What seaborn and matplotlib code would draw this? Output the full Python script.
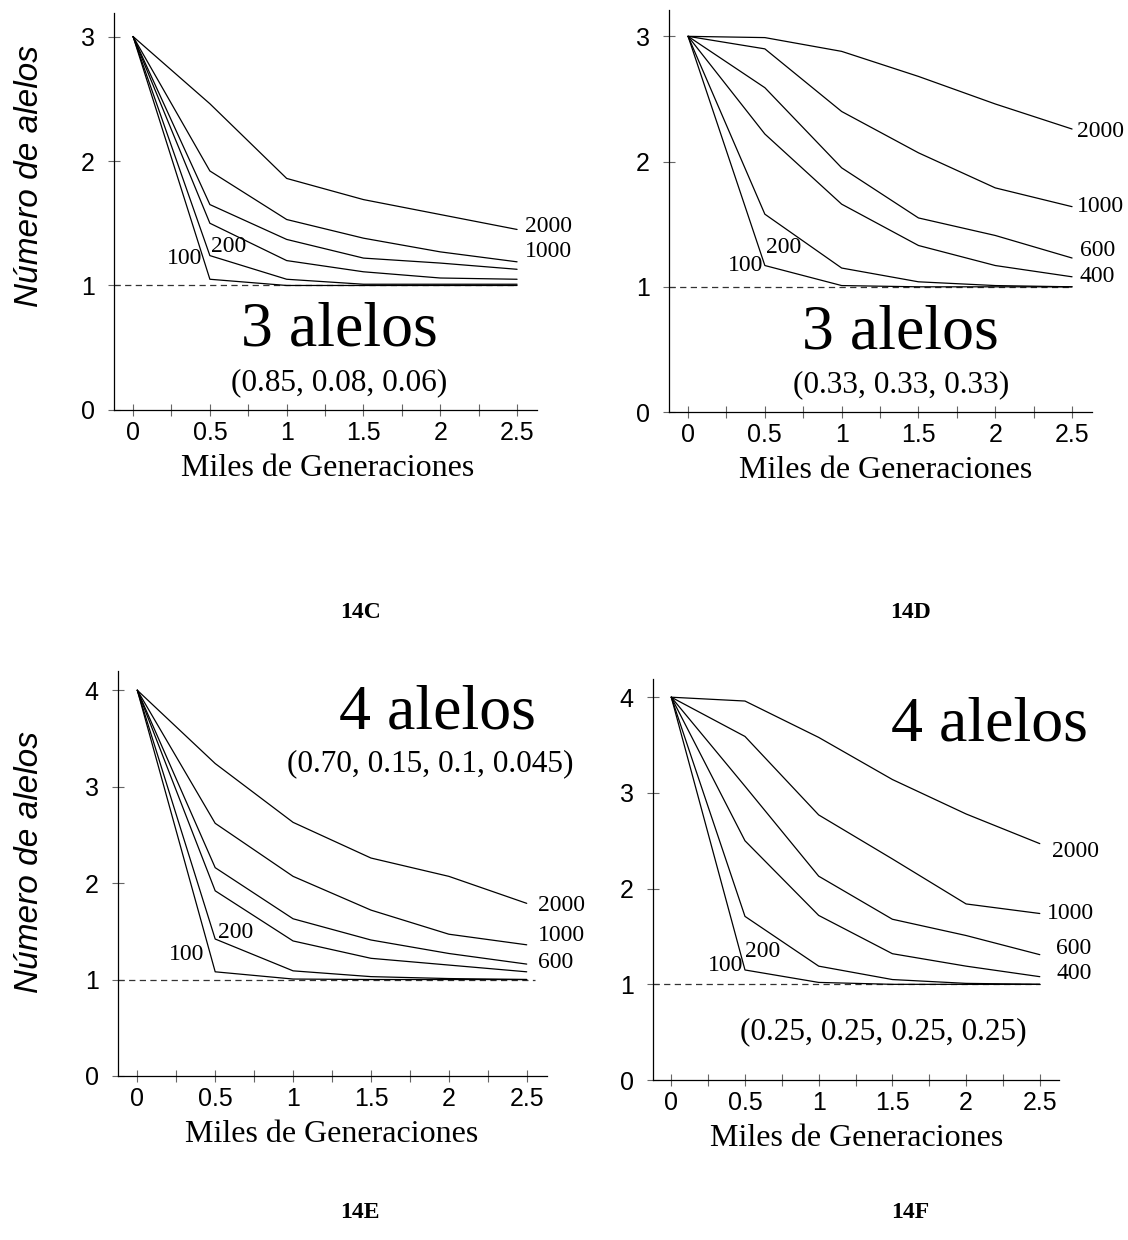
import matplotlib
matplotlib.use("Agg")
import matplotlib.pyplot as plt
import matplotlib.font_manager as fm
import pandas as pd
import seaborn as sns

# ---------------- data ----------------
generaciones = [0, 0.5, 1, 1.5, 2, 2.5]
xtick_labels = ["0", "0.5", "1", "1.5", "2", "2.5"]
minor_x = [0.25, 0.75, 1.25, 1.75, 2.25]
tamanos = [100, 200, 400, 600, 1000, 2000]

# 14C : 3 alelos (0.85, 0.08, 0.06)
c_100 = [3, 1.05, 1.00, 1.00, 1.00, 1.00]
c_200 = [3, 1.24, 1.05, 1.01, 1.01, 1.01]
c_400 = [3, 1.50, 1.20, 1.11, 1.06, 1.05]
c_600 = [3, 1.65, 1.37, 1.22, 1.18, 1.13]
c_1000 = [3, 1.92, 1.53, 1.38, 1.27, 1.19]
c_2000 = [3, 2.46, 1.86, 1.69, 1.57, 1.45]

# 14D : 3 alelos (0.33, 0.33, 0.33)
d_100 = [3, 1.17, 1.01, 1.00, 1.00, 1.00]
d_200 = [3, 1.58, 1.15, 1.04, 1.01, 1.00]
d_400 = [3, 2.22, 1.66, 1.33, 1.17, 1.08]
d_600 = [3, 2.59, 1.95, 1.55, 1.41, 1.23]
d_1000 = [3, 2.90, 2.40, 2.07, 1.79, 1.64]
d_2000 = [3, 2.99, 2.88, 2.68, 2.46, 2.26]

# 14E : 4 alelos (0.70, 0.15, 0.1, 0.045)
e_100 = [4, 1.08, 1.005, 1.00, 1.00, 1.00]
e_200 = [4, 1.42, 1.09, 1.03, 1.01, 1.00]
e_400 = [4, 1.92, 1.40, 1.22, 1.15, 1.08]
e_600 = [4, 2.16, 1.63, 1.41, 1.27, 1.16]
e_1000 = [4, 2.62, 2.07, 1.72, 1.47, 1.36]
e_2000 = [4, 3.24, 2.63, 2.26, 2.07, 1.79]

# 14F : 4 alelos (0.25, 0.25, 0.25, 0.25)
f_100 = [4, 1.15, 1.02, 1.00, 1.00, 1.00]
f_200 = [4, 1.71, 1.19, 1.05, 1.01, 1.00]
f_400 = [4, 2.50, 1.72, 1.32, 1.19, 1.08]
f_600 = [4, 3.07, 2.13, 1.68, 1.51, 1.31]
f_1000 = [4, 3.59, 2.77, 2.31, 1.84, 1.74]
f_2000 = [4, 3.96, 3.58, 3.14, 2.78, 2.47]

linea_base = 1

# ---------------- style ----------------
sns.set_theme(style="white")
plt.rcParams["font.family"] = ["Liberation Serif", "DejaVu Serif"]
plt.rcParams["axes.linewidth"] = 0.9
plt.rcParams["axes.edgecolor"] = "black"
plt.rcParams["text.color"] = "black"
plt.rcParams["axes.labelcolor"] = "black"
plt.rcParams["xtick.color"] = "black"
plt.rcParams["ytick.color"] = "black"

names = {f.name for f in fm.fontManager.ttflist}
if "Liberation Sans Narrow" in names:
    ylab_font = dict(family="Liberation Sans Narrow", size=29, style="italic")
else:
    ylab_font = dict(family="Liberation Sans", size=24, style="italic")

fig = plt.figure(figsize=(11.28, 12.4), dpi=100)
XLIM = (-0.124, 2.63)

panels = [
    dict(rect=[0.1011, 0.6694, 0.3750, 0.3202], series=[c_100, c_200, c_400, c_600, c_1000, c_2000],
         ylim=(0, 3.19), yticks=[0, 1, 2, 3], ylabel=(-0.201, 0.589), xlabel=(0.504, -0.148),
         labels=[("2000", 2.55, 1.47, "left"), ("1000", 2.55, 1.27, "left"),
                 ("200", 0.51, 1.31, "left"), ("100", 0.45, 1.22, "right")],
         big=("3 alelos", 1.34, 0.64), paren=("(0.85, 0.08, 0.06)", 1.34, 0.22), dash=2.5,
         title=("14C", 360, 612)),
    dict(rect=[0.5931, 0.6677, 0.3750, 0.3242], series=[d_100, d_200, d_400, d_600, d_1000, d_2000],
         ylim=(0, 3.21), yticks=[0, 1, 2, 3], ylabel=None, xlabel=(0.513, -0.146),
         labels=[("2000", 2.53, 2.24, "left"), ("1000", 2.53, 1.64, "left"),
                 ("600", 2.55, 1.29, "left"), ("400", 2.55, 1.08, "left"),
                 ("200", 0.51, 1.31, "left"), ("100", 0.49, 1.17, "right")],
         big=("3 alelos", 1.385, 0.63), paren=("(0.33, 0.33, 0.33)", 1.385, 0.22), dash=2.5,
         title=("14D", 910, 612)),
    dict(rect=[0.1046, 0.1323, 0.3803, 0.3266], series=[e_100, e_200, e_400, e_600, e_1000, e_2000],
         ylim=(0, 4.2), yticks=[0, 1, 2, 3, 4], ylabel=(-0.207, 0.528), xlabel=(0.499, -0.145),
         labels=[("2000", 2.57, 1.77, "left"), ("1000", 2.57, 1.46, "left"),
                 ("600", 2.57, 1.18, "left"), ("200", 0.52, 1.49, "left"),
                 ("100", 0.43, 1.26, "right")],
         big=("4 alelos", 1.93, 3.76), paren=("(0.70, 0.15, 0.1, 0.045)", 1.88, 3.24), dash=2.55,
         title=("14E", 360, 1212)),
    dict(rect=[0.5789, 0.1290, 0.3599, 0.3234], series=[f_100, f_200, f_400, f_600, f_1000, f_2000],
         ylim=(0, 4.19), yticks=[0, 1, 2, 3, 4], ylabel=None, xlabel=(0.502, -0.147),
         labels=[("2000", 2.58, 2.39, "left"), ("1000", 2.55, 1.74, "left"),
                 ("600", 2.61, 1.37, "left"), ("400", 2.61, 1.11, "left"),
                 ("200", 0.50, 1.34, "left"), ("100", 0.49, 1.20, "right")],
         big=("4 alelos", 2.16, 3.70), paren=("(0.25, 0.25, 0.25, 0.25)", 1.44, 0.51), dash=2.5,
         title=("14F", 910, 1212)),
]

W, H = 1128, 1240
for p in panels:
    ax = fig.add_axes(p["rect"])
    rows = []
    for n, vals in zip(tamanos, p["series"]):
        for g, v in zip(generaciones, vals):
            rows.append({"gen": g, "alelos": v, "N": n})
    df = pd.DataFrame(rows)
    sns.lineplot(data=df, x="gen", y="alelos", units="N", estimator=None, color="black",
                 lw=0.9, ax=ax, legend=False)
    ax.set_xlim(*XLIM)
    ax.set_ylim(*p["ylim"])
    xmax_frac = (p["dash"] - XLIM[0]) / (XLIM[1] - XLIM[0])
    ax.axhline(linea_base, xmin=0, xmax=xmax_frac, color="#333333", lw=0.9, ls=(0, (5, 3.5)), zorder=1)

    ax.set_xticks(generaciones)
    ax.set_xticklabels(xtick_labels, family="Liberation Sans", fontsize=18)
    ax.set_xticks(minor_x, minor=True)
    ax.set_yticks(p["yticks"])
    ax.set_yticklabels([str(t) for t in p["yticks"]], family="Liberation Sans", fontsize=18)
    ax.tick_params(axis="x", which="both", direction="inout", length=8, width=0.8,
                   color="#666666", pad=4, bottom=True)
    ax.tick_params(axis="y", which="both", direction="inout", length=8, width=0.8,
                   color="#666666", pad=10, left=True)
    sns.despine(ax=ax)
    ax.grid(False)

    ax.set_xlabel("Miles de Generaciones", fontsize=23, va="center")
    ax.xaxis.set_label_coords(*p["xlabel"])
    if p["ylabel"] is not None:
        ax.set_ylabel("Número de alelos", va="center", **ylab_font)
        ax.yaxis.set_label_coords(*p["ylabel"])
    else:
        ax.set_ylabel("")

    for txt, x, y, ha in p["labels"]:
        ax.text(x, y, txt, fontsize=17, ha=ha, va="center")
    t, x, y = p["big"]
    ax.text(x, y, t, fontsize=46, ha="center", va="center")
    t, x, y = p["paren"]
    ax.text(x, y, t, fontsize=22.5, ha="center", va="center")

    t, px, py = p["title"]
    fig.text(px / W, 1 - py / H, t, fontsize=17, fontweight="bold", ha="center", va="center")

fig.savefig("out.png", dpi=100, facecolor="white")
